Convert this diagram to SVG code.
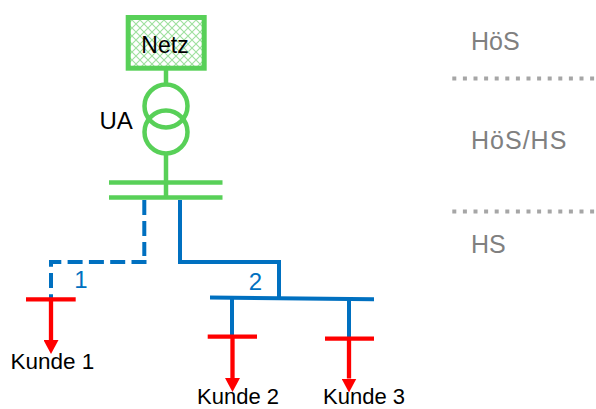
<svg xmlns="http://www.w3.org/2000/svg" width="596" height="409" viewBox="0 0 596 409">
<style>
.g{stroke:#58D058;fill:none;stroke-width:4.5}
.b{stroke:#0070C0;fill:none;stroke-width:4}
.r{stroke:#FF0000;fill:none;stroke-width:4.3}
.dot{stroke:#A6A6A6;stroke-width:4;stroke-dasharray:4 6.6}
.t{font-family:"Liberation Sans",Arial,sans-serif;fill:#000}
.lvl{font-family:"Liberation Sans",Arial,sans-serif;fill:#808080;font-size:25px}
.num{font-family:"Liberation Sans",Arial,sans-serif;fill:#0070C0;font-size:24px;text-anchor:middle}
</style>
<defs>
<pattern id="hatch" width="8" height="8" patternUnits="userSpaceOnUse">
<rect width="8" height="8" fill="#fff"/>
<path d="M0,0 L8,8 M8,0 L0,8" stroke="#9EE09E" stroke-width="1.1"/>
</pattern>
<marker id="arr" viewBox="0 0 14 15" refX="0" refY="7.5" markerWidth="14" markerHeight="15" markerUnits="userSpaceOnUse" orient="auto">
<path d="M0,0 L14,7.5 L0,15 z" fill="#FF0000"/>
</marker>
</defs>

<g id="netz">
<rect x="128.2" y="17.5" width="76" height="50.7" fill="url(#hatch)" stroke="#58D058" stroke-width="5"/>
<text class="t" x="165" y="53" font-size="23" text-anchor="middle">Netz</text>
</g>

<g id="ua">
<line class="g" x1="166" y1="70" x2="166" y2="84"/>
<circle class="g" cx="166" cy="106" r="21.5"/>
<circle class="g" cx="166" cy="132" r="21.5"/>
<line class="g" x1="166" y1="154" x2="166" y2="197.5"/>
<text class="t" x="99.5" y="129" font-size="24">UA</text>
</g>

<g id="sammelschiene">
<line class="g" x1="109" y1="182.5" x2="222.5" y2="182.5" stroke-width="5"/>
<line class="g" x1="109" y1="197.5" x2="222.5" y2="197.5" stroke-width="5"/>
</g>

<g id="connectors">
<line class="b" x1="144.3" y1="200" x2="144.3" y2="256" stroke-dasharray="15 6"/>
<path class="b" d="M146.5,262 H51 V299" stroke-dasharray="15 6.3"/>
<path class="b" d="M180,200 V262 H279 V298"/>
<line class="b" x1="210" y1="297.5" x2="374" y2="299.2"/>
<line class="b" x1="232" y1="298" x2="232" y2="337"/>
<line class="b" x1="349" y1="299" x2="349" y2="338.5"/>
<text class="num" x="81" y="288">1</text>
<text class="num" x="255.5" y="290">2</text>
</g>

<g id="kunde1">
<line class="r" x1="26" y1="299.3" x2="75.7" y2="299.3"/>
<line class="r" x1="51" y1="299" x2="51" y2="340" marker-end="url(#arr)"/>
<text class="t" x="10.5" y="369" font-size="22.5">Kunde 1</text>
</g>

<g id="kunde2">
<line class="r" x1="207.7" y1="336.7" x2="257" y2="336.7"/>
<line class="r" x1="232.5" y1="337" x2="232.5" y2="378" marker-end="url(#arr)"/>
<text class="t" x="197" y="404" font-size="22">Kunde 2</text>
</g>

<g id="kunde3">
<line class="r" x1="325" y1="338.7" x2="374" y2="338.7"/>
<line class="r" x1="349" y1="339" x2="349" y2="378.5" marker-end="url(#arr)"/>
<text class="t" x="323" y="404" font-size="22">Kunde 3</text>
</g>

<g id="ebenen">
<text class="lvl" x="471" y="50">HöS</text>
<line class="dot" x1="452.3" y1="78.5" x2="596" y2="78.5"/>
<text class="lvl" x="471" y="149" letter-spacing="1">HöS/HS</text>
<line class="dot" x1="452.3" y1="211.5" x2="596" y2="211.5"/>
<text class="lvl" x="471" y="253">HS</text>
</g>
</svg>
